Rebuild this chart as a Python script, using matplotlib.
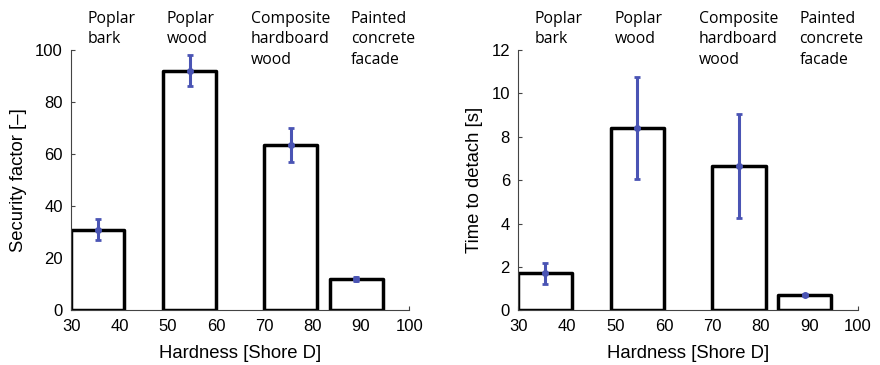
import numpy as np
import matplotlib.pyplot as plt

# data
surfaces = ["Poplar\nbark", "Poplar\nwood", "Composite\nhardboard\nwood", "Painted\nconcrete\nfacade"]
hardness_lo = [30, 49, 70, 83.5]
hardness_hi = [41, 60, 81, 94.5]
label_x = [33.3, 49.8, 67.2, 87.9]

security = [31, 92, 63.5, 12]
security_err = [4, 6, 6.6, 0.8]

detach_time = [1.7, 8.4, 6.65, 0.72]
detach_err = [0.48, 2.35, 2.4, 0.05]

EDGE = "black"
ERR = "#4a54b4"

plt.rcParams["font.family"] = ["Liberation Sans", "DejaVu Sans"]
fig = plt.figure(figsize=(8.8, 3.65), dpi=100)

ax1 = fig.add_axes([0.081, 0.150, 0.384, 0.713])
ax2 = fig.add_axes([0.589, 0.150, 0.386, 0.713])


def draw(ax, vals, errs, ymax, ystep, ylabel):
    lo = np.array(hardness_lo)
    hi = np.array(hardness_hi)
    ax.bar(lo, vals, width=hi - lo, align="edge", facecolor="white",
           edgecolor=EDGE, linewidth=2.5, joinstyle="round", zorder=2)
    ax.errorbar((lo + hi) / 2, vals, yerr=errs, fmt="o", color=ERR, ms=4,
                elinewidth=2.2, capsize=2, capthick=2, zorder=3)
    ax.set_xlim(30, 100)
    ax.set_ylim(0, ymax)
    ax.set_xticks(np.arange(30, 101, 10))
    ax.set_yticks(np.arange(0, ymax + 0.01, ystep))
    for s in ["top", "right"]:
        ax.spines[s].set_visible(False)
    for s in ["left", "bottom"]:
        ax.spines[s].set_color("#444444")
        ax.spines[s].set_linewidth(0.8)
    ax.tick_params(direction="in", length=3, width=0.8, labelsize=12, pad=6,
                   color="#444444")
    ax.set_xlabel("Hardness [Shore D]", fontsize=13.3, labelpad=8)
    ax.set_ylabel(ylabel, fontsize=13.3, labelpad=6)
    for x, t in zip(label_x, surfaces):
        ax.text(x, 1.15, t, transform=ax.get_xaxis_transform(), ha="left",
                va="top", fontsize=11.3, family=["Open Sans", "DejaVu Sans"],
                linespacing=1.37)


draw(ax1, security, security_err, 100, 20, "Security factor [–]")
draw(ax2, detach_time, detach_err, 12, 2, "Time to detach [s]")

fig.savefig("out.png", dpi=100)
